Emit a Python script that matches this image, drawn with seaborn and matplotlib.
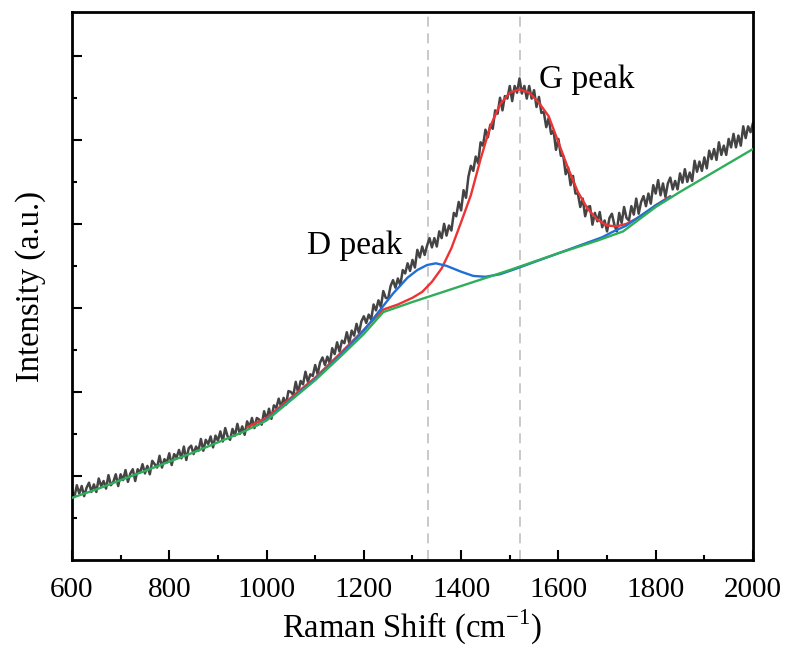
import numpy as np
import matplotlib
matplotlib.use("Agg")
import matplotlib.pyplot as plt
import seaborn as sns
from matplotlib.ticker import MultipleLocator, FixedLocator

shift = np.arange(600, 2001, 5)
intensity = [
    0.82, 0.75, 0.89, 0.79, 0.88, 0.76, 0.86, 0.92, 0.81, 0.90,
    0.81, 0.97, 0.88, 0.94, 0.85, 1.01, 0.89, 0.93, 1.02, 0.88,
    1.02, 0.95, 1.07, 0.93, 1.03, 1.08, 0.94, 1.08, 1.04, 1.14,
    1.03, 1.12, 1.02, 1.18, 1.14, 1.10, 1.24, 1.10, 1.20, 1.16,
    1.27, 1.13, 1.26, 1.22, 1.31, 1.21, 1.35, 1.19, 1.33, 1.36,
    1.26, 1.35, 1.30, 1.44, 1.30, 1.43, 1.38, 1.47, 1.34, 1.48,
    1.42, 1.53, 1.41, 1.57, 1.47, 1.43, 1.56, 1.48, 1.62, 1.50,
    1.59, 1.49, 1.65, 1.58, 1.69, 1.57, 1.69, 1.67, 1.61, 1.77,
    1.67, 1.80, 1.68, 1.84, 1.81, 1.92, 1.82, 1.93, 1.85, 2.01,
    2.00, 1.96, 2.12, 1.99, 2.13, 2.09, 2.24, 2.12, 2.21, 2.19,
    2.32, 2.21, 2.35, 2.41, 2.32, 2.42, 2.34, 2.52, 2.45, 2.59,
    2.48, 2.61, 2.58, 2.71, 2.58, 2.73, 2.67, 2.81, 2.70, 2.84,
    2.90, 2.82, 2.92, 2.86, 3.04, 2.97, 3.09, 3.01, 3.20, 3.12,
    3.11, 3.26, 3.33, 3.24, 3.35, 3.27, 3.45, 3.41, 3.53, 3.44,
    3.57, 3.48, 3.69, 3.60, 3.73, 3.63, 3.74, 3.83, 3.72, 3.83,
    3.73, 3.91, 3.83, 4.00, 3.86, 3.98, 3.92, 4.13, 4.09, 4.26,
    4.16, 4.40, 4.31, 4.56, 4.69, 4.63, 4.80, 4.72, 4.97, 4.93,
    5.12, 5.03, 5.18, 5.13, 5.35, 5.31, 5.50, 5.35, 5.52, 5.49,
    5.64, 5.46, 5.64, 5.56, 5.73, 5.55, 5.64, 5.49, 5.64, 5.49,
    5.59, 5.39, 5.51, 5.32, 5.33, 5.15, 5.26, 5.07, 5.11, 4.88,
    5.01, 4.81, 4.81, 4.59, 4.67, 4.46, 4.57, 4.36, 4.36, 4.20,
    4.30, 4.09, 4.20, 4.21, 3.99, 4.13, 4.03, 4.14, 3.96, 4.04,
    3.91, 4.07, 4.12, 3.99, 3.91, 4.13, 4.01, 4.20, 4.07, 4.04,
    4.21, 4.11, 4.30, 4.12, 4.26, 4.33, 4.21, 4.36, 4.24, 4.46,
    4.36, 4.52, 4.34, 4.48, 4.32, 4.48, 4.55, 4.41, 4.51, 4.41,
    4.60, 4.49, 4.65, 4.50, 4.61, 4.51, 4.75, 4.62, 4.74, 4.63,
    4.79, 4.66, 4.87, 4.77, 4.89, 4.76, 4.97, 4.82, 4.93, 4.82,
    5.01, 4.91, 5.07, 4.91, 5.05, 4.93, 5.16, 5.02, 5.16, 5.09,
    5.20,
]

# G peak fit (red)
g_fit_x = [960, 1000, 1050, 1100, 1150, 1200, 1240, 1270, 1300, 1320,
           1340, 1360, 1380, 1400, 1420, 1440, 1460, 1480, 1500, 1520,
           1540, 1560, 1580, 1600, 1620, 1640, 1660, 1680, 1700, 1720,
           1740, 1760, 1780, 1800, 1830]
g_fit_y = [1.58, 1.69, 1.93, 2.17, 2.45, 2.74, 2.98, 3.04, 3.12, 3.19,
           3.31, 3.47, 3.71, 4.02, 4.34, 4.77, 5.16, 5.42, 5.56, 5.60,
           5.56, 5.44, 5.28, 4.97, 4.66, 4.38, 4.18, 4.05, 3.98, 3.97,
           4.00, 4.06, 4.13, 4.22, 4.33]

# D peak fit (blue)
d_fit_x = [980, 1000, 1050, 1100, 1150, 1200, 1230, 1260, 1290, 1310,
           1330, 1348, 1370, 1400, 1425, 1450, 1480, 1510, 1600, 1690,
           1710, 1740, 1770, 1800, 1830]
d_fit_y = [1.60, 1.67, 1.91, 2.15, 2.43, 2.73, 2.95, 3.17, 3.36, 3.45,
           3.51, 3.53, 3.50, 3.43, 3.38, 3.37, 3.40, 3.46, 3.65, 3.84,
           3.90, 3.98, 4.10, 4.22, 4.32]

# baseline (green)
base_x = [600, 650, 700, 750, 800, 850, 900, 950, 1000, 1050, 1100, 1150,
          1200, 1240, 1300, 1400, 1500, 1600, 1680, 1733, 1800, 1850,
          1900, 1950, 2000]
base_y = [0.74, 0.84, 0.95, 1.06, 1.17, 1.28, 1.40, 1.52, 1.66, 1.90,
          2.14, 2.41, 2.69, 2.95, 3.07, 3.26, 3.45, 3.65, 3.80, 3.91,
          4.20, 4.38, 4.55, 4.72, 4.89]

peak_pos = [1331, 1521]

sns.set_style("ticks")
plt.rcParams["font.family"] = ["Liberation Serif", "DejaVu Serif"]
plt.rcParams["mathtext.fontset"] = "custom"
plt.rcParams["mathtext.rm"] = "Liberation Serif"
plt.rcParams["text.color"] = "black"
plt.rcParams["axes.labelcolor"] = "black"
plt.rcParams["xtick.color"] = "black"
plt.rcParams["ytick.color"] = "black"

fig = plt.figure(figsize=(7.85, 6.46), dpi=100)
ax = fig.add_axes([0.0917, 0.1331, 0.8675, 0.8483])

for p in peak_pos:
    ax.axvline(p, color="#c0c0c0", ls=(0, (6, 4)), lw=1.2, zorder=1)

sns.lineplot(x=shift, y=intensity, ax=ax, color="#444444", lw=1.8, zorder=2)
sns.lineplot(x=g_fit_x, y=g_fit_y, ax=ax, color="#ee3333", lw=1.7, zorder=3)
sns.lineplot(x=d_fit_x, y=d_fit_y, ax=ax, color="#1f6fd6", lw=1.7, zorder=4)
sns.lineplot(x=base_x, y=base_y, ax=ax, color="#2fae5a", lw=1.7, zorder=5)

ax.text(1182, 3.74, "D peak", fontsize=24, ha="center", va="center")
ax.text(1659, 5.71, "G peak", fontsize=24, ha="center", va="center")

ax.set_xlim(600, 2000)
ax.set_ylim(0, 6.52)
ax.xaxis.set_major_locator(MultipleLocator(200))
ax.xaxis.set_minor_locator(MultipleLocator(100))
ax.yaxis.set_major_locator(FixedLocator([1, 2, 3, 4, 5, 6]))
ax.yaxis.set_minor_locator(FixedLocator([0.5, 1.5, 2.5, 3.5, 4.5, 5.5]))
ax.tick_params(which="major", direction="in", length=7, width=1.5,
               labelsize=21, pad=12, top=False, right=False)
ax.tick_params(which="minor", direction="in", length=3.5, width=1.5,
               top=False, right=False)
ax.tick_params(axis="y", labelleft=False)
for s in ax.spines.values():
    s.set_linewidth(2)
    s.set_color("black")

ax.set_xlabel(r"Raman Shift (cm$^{\mathregular{-1}}$)", fontsize=23.5, labelpad=4)
ax.set_ylabel("Intensity (a.u.)", fontsize=23.5, labelpad=15)

fig.savefig("out.png", dpi=100)
